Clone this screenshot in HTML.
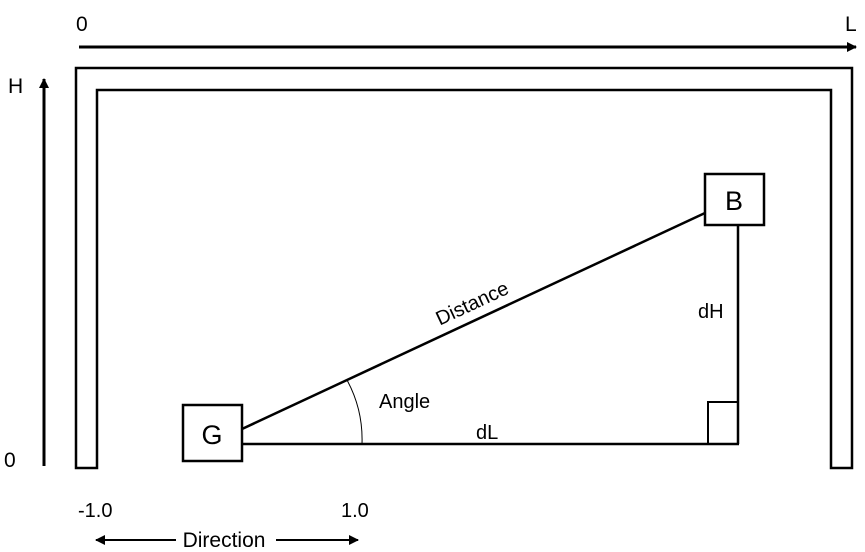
<!DOCTYPE html>
<html><head><meta charset="utf-8"><style>
html,body{margin:0;padding:0;background:#fff;width:865px;height:552px;overflow:hidden}
text{font-family:"Liberation Sans",sans-serif;fill:#000}
</style></head><body>
<svg width="865" height="552" viewBox="0 0 865 552">
<defs><marker id="ah" markerWidth="10" markerHeight="10" refX="9" refY="5" orient="auto" markerUnits="userSpaceOnUse"><path d="M0,0 L10,5 L0,10 z" fill="#000"/></marker></defs>
<g>
<line x1="79" y1="47" x2="856" y2="47" stroke="#000" stroke-width="3" marker-end="url(#ah)"/>
<text x="76" y="31" font-size="21">0</text>
<text x="845" y="31" font-size="21">L</text>
</g>
<g>
<line x1="44" y1="466" x2="44" y2="79" stroke="#000" stroke-width="3" marker-end="url(#ah)"/>
<text x="8" y="93" font-size="21">H</text>
<text x="4" y="467" font-size="21">0</text>
</g>
<path d="M76,468 L76,68 L852,68 L852,468 L831,468 L831,90 L97,90 L97,468 Z" fill="none" stroke="#000" stroke-width="2.5"/>
<line x1="242" y1="429" x2="705" y2="213" stroke="#000" stroke-width="2.5"/>
<line x1="242" y1="444" x2="739" y2="444" stroke="#000" stroke-width="2.5"/>
<line x1="738" y1="225" x2="738" y2="444" stroke="#000" stroke-width="2.5"/>
<rect x="708" y="402" width="30" height="42" fill="none" stroke="#000" stroke-width="2"/>
<path d="M347,380 A125,125 0 0 1 362,444" fill="none" stroke="#000" stroke-width="1"/>
<g>
<rect x="183" y="405" width="59" height="56" fill="#fff" stroke="#000" stroke-width="2.5"/>
<text x="212" y="444" font-size="27" text-anchor="middle">G</text>
</g>
<g>
<rect x="705" y="174" width="59" height="51" fill="#fff" stroke="#000" stroke-width="2.5"/>
<text x="734" y="210" font-size="27" text-anchor="middle">B</text>
</g>
<text x="472" y="310" font-size="20" text-anchor="middle" transform="rotate(-25 472 303)">Distance</text>
<text x="379" y="408" font-size="20">Angle</text>
<text x="476" y="439" font-size="20">dL</text>
<text x="698" y="318" font-size="20">dH</text>
<g>
<text x="78" y="517" font-size="20">-1.0</text>
<text x="341" y="517" font-size="20">1.0</text>
<line x1="176" y1="540" x2="96" y2="540" stroke="#000" stroke-width="2" marker-end="url(#ah)"/>
<line x1="276" y1="540" x2="358" y2="540" stroke="#000" stroke-width="2" marker-end="url(#ah)"/>
<text x="224" y="547" font-size="21" text-anchor="middle">Direction</text>
</g>
</svg>
</body></html>
